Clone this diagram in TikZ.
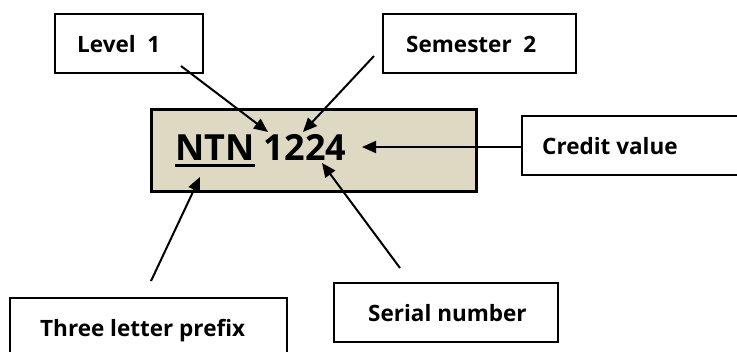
\documentclass[tikz,border=0pt]{standalone}
\usepackage{fontspec}
\setmainfont{Open Sans}
\usetikzlibrary{arrows.meta}
\definecolor{tan}{RGB}{221,217,195}
\newcommand\thickul[1]{\setbox0\hbox{#1}\rlap{\rule[-6.5pt]{\wd0}{3pt}}\box0\relax}
\tikzset{
  lbox/.style={draw=black, line width=2.5pt, fill=white, rectangle, inner sep=0pt},
  lbl/.style={anchor=base west, inner sep=0pt, font=\fontsize{22.5}{26}\selectfont\bfseries},
  arr/.style={line width=2pt, -{Triangle[length=14pt,width=12pt]}}
}
\begin{document}
\begin{tikzpicture}[x=1pt,y=-1pt]
\useasboundingbox (0,0) rectangle (737,352);
\fill[white] (0,0) rectangle (737,352);
% boxes
\node[lbox, minimum width=148pt, minimum height=59pt] (lev) at (129,43.5) {};
\node[lbox, minimum width=193pt, minimum height=59pt] (sem) at (479.5,43.5) {};
\node[lbox, fill=tan, line width=3pt, minimum width=325pt, minimum height=82pt] (main) at (313.5,151) {};
\node[lbox, minimum width=218pt, minimum height=59pt] (cred) at (631,145.5) {};
\node[lbox, minimum width=277pt, minimum height=62pt] (three) at (148.5,329) {};
\node[lbox, minimum width=224pt, minimum height=59pt] (ser) at (446,312.5) {};
% texts
\node[lbl] (levt) at (77,53) {Level\ \ 1};
\node[lbl] (semt) at (406,53) {Semester\ \ 2};
\node[lbl] (credt) at (542,155) {Credit value};
\node[lbl] (threet) at (40,337) {Three letter prefix};
\node[lbl] (sert) at (368,322) {Serial number};
\node[anchor=base west, inner sep=0pt, font=\fontsize{36}{42}\selectfont\bfseries] (code) at (175,161) {\thickul{NTN} 1224};
% connector points
\coordinate (levA) at (181,66);
\coordinate (levB) at (268,132);
\coordinate (semA) at (374,56);
\coordinate (semB) at (303,132);
\coordinate (credA) at (522,147);
\coordinate (credB) at (362,147);
\coordinate (serA) at (400,268);
\coordinate (serB) at (322,163);
\coordinate (thrA) at (151,281);
\coordinate (thrB) at (200,177);
% connectors
\draw[arr] (levA) -- (levB);
\draw[arr] (semA) -- (semB);
\draw[arr] (credA) -- (credB);
\draw[arr] (serA) -- (serB);
\draw[arr] (thrA) -- (thrB);
\end{tikzpicture}
\end{document}
